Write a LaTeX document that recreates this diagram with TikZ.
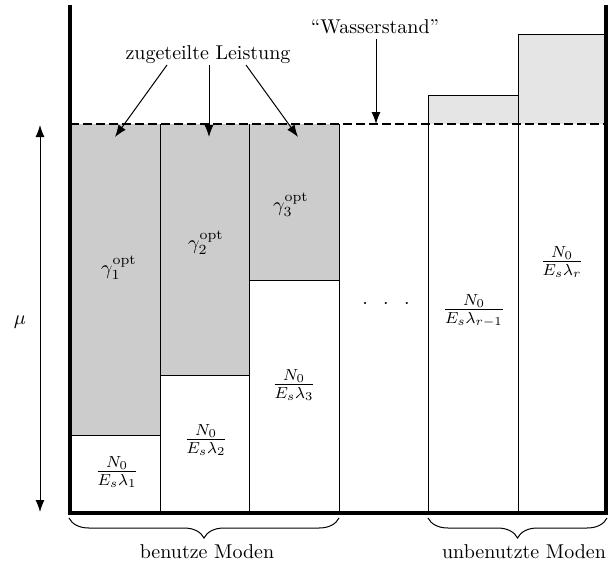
\documentclass[tikz,border=0pt]{standalone}
\usetikzlibrary{arrows.meta,decorations.pathreplacing}
\definecolor{powergray}{gray}{0.8}
\definecolor{unusedgray}{gray}{0.9}
\begin{document}
\begin{tikzpicture}[x=0.5pt,y=-0.5pt,
  wall/.style={line width=2pt, line join=miter},
  cell/.style={draw, line width=0.5pt},
  level/.style={dash pattern=on 4.5pt off 2pt, line width=0.7pt},
  ptr/.style={-{Latex[length=6pt,width=4.5pt]}, line width=0.5pt},
  dptr/.style={{Latex[length=6pt,width=4.5pt]}-{Latex[length=6pt,width=4.5pt]}, line width=0.5pt},
  brc/.style={decorate, decoration={brace, mirror, amplitude=10pt}, line width=0.5pt},
  lbl/.style={inner sep=0pt},
  frc/.style={inner sep=0pt, font=\large}]
\useasboundingbox (0,0) rectangle (608,567);

% allocated power and the parts above the water level
\fill[powergray] (70,124) rectangle (160,435);
\fill[powergray] (160,124) rectangle (249,375);
\fill[powergray] (249,124) rectangle (339,280);
\fill[unusedgray] (428,95) rectangle (518,124);
\fill[unusedgray] (518,35) rectangle (606,124);

% column borders
\draw[cell] (70,435) -- (160,435);
\draw[cell] (160,375) -- (249,375);
\draw[cell] (249,280) -- (339,280);
\draw[cell] (160,124) -- (160,513);
\draw[cell] (249,124) -- (249,513);
\draw[cell] (339,124) -- (339,513);
\draw[cell] (428,513) |- (518,95);
\draw[cell] (518,513) |- (606,35);

% water level
\draw[level] (70,124) -- (606,124);

% vessel
\draw[wall] (70,5) -- (70,513) -- (606,513) -- (606,5);

% cell contents
\node[lbl] (g1) at (119,268) {$\gamma_1^{\mathrm{opt}}$};
\node[lbl] (g2) at (206,243) {$\gamma_2^{\mathrm{opt}}$};
\node[lbl] (g3) at (291,205) {$\gamma_3^{\mathrm{opt}}$};
\node[frc] (n1) at (117,472) {$\frac{N_0}{E_s\lambda_1}$};
\node[frc] (n2) at (206,440) {$\frac{N_0}{E_s\lambda_2}$};
\node[frc] (n3) at (294,385) {$\frac{N_0}{E_s\lambda_3}$};
\node[frc] (nr1) at (474,311) {$\frac{N_0}{E_s\lambda_{r-1}}$};
\node[frc] (nr) at (562,262) {$\frac{N_0}{E_s\lambda_r}$};
\node[lbl] (dots) at (386,304) {$\cdot$\hspace{7.7pt}$\cdot$\hspace{7.7pt}$\cdot$};

% allocated power labels
\node[lbl] (alloc) at (208,55) {zugeteilte Leistung};
\coordinate (a1s) at (167,65);
\coordinate (a2s) at (209,65);
\coordinate (a3s) at (246,65);
\coordinate (a1) at (115,137);
\coordinate (a2) at (209,137);
\coordinate (a3) at (298,137);
\draw[ptr] (a1s) -- (a1);
\draw[ptr] (a2s) -- (a2);
\draw[ptr] (a3s) -- (a3);

\node[lbl] (water) at (375,27) {``Wasserstand''};
\coordinate (ws) at (376,39);
\coordinate (wt) at (376,124);
\draw[ptr] (ws) -- (wt);

% water level height
\node[lbl] (mu) at (20,322) {$\mu$};
\coordinate (mutop) at (40,125);
\coordinate (mubot) at (40,512);
\draw[dptr] (mutop) -- (mubot);

% mode groups
\coordinate (b1l) at (69,518);
\coordinate (b1r) at (339,518);
\coordinate (b2l) at (428,518);
\coordinate (b2r) at (607,518);
\draw[brc] (b1l) -- (b1r);
\draw[brc] (b2l) -- (b2r);
\node[lbl] (used) at (207,552) {benutze Moden};
\node[lbl] (unused) at (524,552) {unbenutzte Moden};
\end{tikzpicture}
\end{document}
